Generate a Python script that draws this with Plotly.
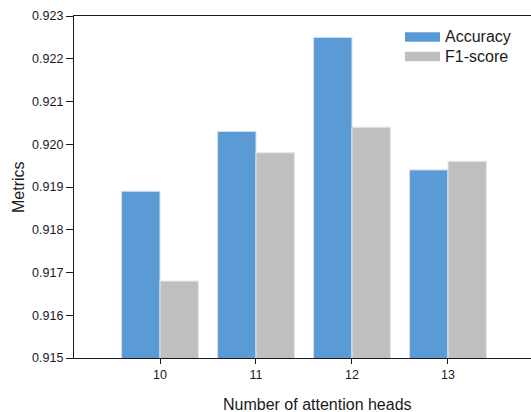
import plotly.graph_objects as go

heads = [10, 11, 12, 13]
tick_labels = ["10", "11", "12", "13"]
accuracy = [0.9189, 0.9203, 0.9225, 0.9194]
f1_score = [0.9168, 0.9198, 0.9204, 0.9196]
series_names = ["Accuracy", "F1-score"]
y_ticks = [0.915, 0.916, 0.917, 0.918, 0.919, 0.920, 0.921, 0.922, 0.923]

BLUE = "#5B9BD5"
GRAY = "#BFBFBF"
FONT = "Liberation Sans, Arial, sans-serif"

W, H = 531, 412
L, R, T, B = 74, 0, 16, 54
pw = W - L - R
ph = H - T - B

fig = go.Figure()
fig.add_trace(go.Bar(x=heads, y=accuracy, name=series_names[0],
                     marker=dict(color=BLUE, line=dict(color="#cfe2f3", width=1)),
                     showlegend=False))
fig.add_trace(go.Bar(x=heads, y=f1_score, name=series_names[1],
                     marker=dict(color=GRAY, line=dict(color="#e6e6e6", width=1)),
                     showlegend=False))

fig.update_layout(
    width=W, height=H,
    margin=dict(l=L, r=R, t=T, b=B, pad=0),
    paper_bgcolor="white", plot_bgcolor="white",
    barmode="group", bargap=0.2, bargroupgap=0,
    font=dict(family=FONT, color="#1a1a1a"),
    xaxis=dict(range=[9.104, 13.865], tickvals=heads, ticktext=tick_labels,
               showgrid=False, zeroline=False, showline=True, linecolor="#1a1a1a",
               linewidth=1.2, mirror=True, ticks="outside", ticklen=5,
               tickcolor="#1a1a1a", tickfont=dict(size=12.5, family=FONT)),
    yaxis=dict(range=[0.915, 0.923], tickvals=y_ticks, tickformat=".3f",
               showgrid=False, zeroline=False, showline=True, linecolor="#1a1a1a",
               linewidth=1.2, ticks="outside", ticklen=7, tickcolor="#1a1a1a",
               tickfont=dict(size=12.5, family=FONT)),
)

def px_x(x):
    return (x - L) / pw

def px_y(y):
    return 1 - (y - T) / ph

# axis titles
fig.add_annotation(text="Number of attention heads", x=px_x(317), y=px_y(404),
                   xref="paper", yref="paper", showarrow=False,
                   xanchor="center", yanchor="middle",
                   font=dict(size=16, family=FONT, color="#1a1a1a"))
fig.add_annotation(text="Metrics", x=px_x(18), y=px_y(187),
                   xref="paper", yref="paper", showarrow=False, textangle=-90,
                   xanchor="center", yanchor="middle",
                   font=dict(size=16, family=FONT, color="#1a1a1a"))

# legend drawn with shapes and text
for i, (name, col) in enumerate(zip(series_names, [BLUE, GRAY])):
    cy = 37 + i * 19.5
    fig.add_shape(type="rect", xref="paper", yref="paper",
                  x0=px_x(405), x1=px_x(440), y0=px_y(cy - 4.7), y1=px_y(cy + 4.7),
                  fillcolor=col, line=dict(width=0))
    fig.add_annotation(text=name, x=px_x(443), y=px_y(cy), xref="paper", yref="paper",
                       showarrow=False, xanchor="left", yanchor="middle",
                       font=dict(size=16, family=FONT, color="#1a1a1a"))

fig.write_html("out.html", config={"displayModeBar": False},
               post_script="document.body.style.margin='0';document.body.style.padding='0';document.body.style.overflow='hidden';")
